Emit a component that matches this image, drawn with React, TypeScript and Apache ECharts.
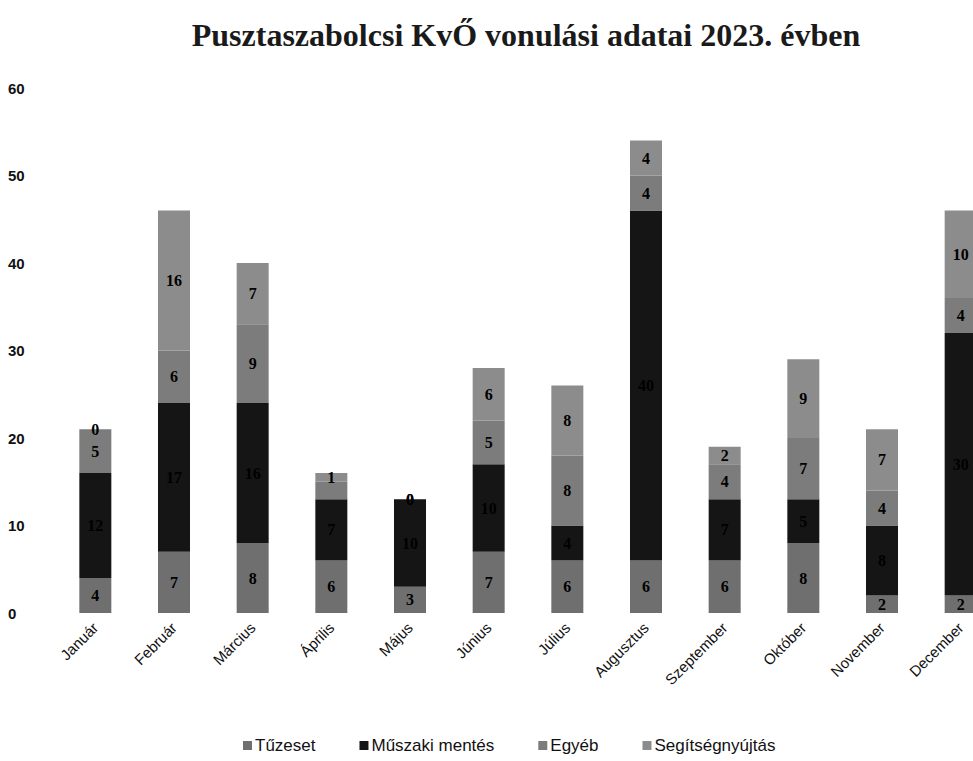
import React, { useEffect, useRef } from "react";
import * as echarts from "echarts";

const months = ["Január", "Február", "Március", "Április", "Május", "Június", "Július", "Augusztus", "Szeptember", "Október", "November", "December"];
const tuzeset = [4, 7, 8, 6, 3, 7, 6, 6, 6, 8, 2, 2];
const muszaki = [12, 17, 16, 7, 10, 10, 4, 40, 7, 5, 8, 30];
const egyeb = [5, 6, 9, 2, 0, 5, 8, 4, 4, 7, 4, 4];
const segitseg = [0, 16, 7, 1, 0, 6, 8, 4, 2, 9, 7, 10];
const yTicks = [0, 10, 20, 30, 40, 50, 60];

const seriesNames = ["Tűzeset", "Műszaki mentés", "Egyéb", "Segítségnyújtás"];
const seriesColors = ["#6f6f6f", "#151515", "#7c7c7c", "#8c8c8c"];

export default function App() {
  const ref = useRef<HTMLDivElement>(null);
  useEffect(() => {
    if (!ref.current) return;
    const chart = echarts.init(ref.current, null, { renderer: "svg" });
    const data = [tuzeset, muszaki, egyeb, segitseg];
    chart.setOption({
      animation: false,
      backgroundColor: "#ffffff",
      title: {
        text: "Pusztaszabolcsi KvŐ vonulási adatai 2023. évben",
        left: 521,
        textAlign: "center",
        top: 14,
        textStyle: { fontFamily: "Liberation Serif", fontWeight: "bold", fontSize: 32, color: "#1a1a1a" },
      },
      legend: {
        bottom: 2,
        left: 238,
        itemWidth: 9,
        itemHeight: 9,
        itemGap: 44,
        icon: "rect",
        textStyle: { fontFamily: "Liberation Sans", fontSize: 17, color: "#111", padding: [0, 0, 0, -2] },
        data: seriesNames,
      },
      grid: { left: 56, right: 0, top: 88, bottom: 148 },
      xAxis: {
        type: "category",
        data: months,
        axisLine: { show: false },
        axisTick: { show: false },
        axisLabel: { rotate: 45, fontFamily: "Liberation Sans", fontSize: 15, color: "#111", margin: 12, interval: 0 },
      },
      yAxis: {
        type: "value",
        min: 0,
        max: yTicks[yTicks.length - 1],
        interval: 10,
        splitLine: { show: false },
        axisLine: { show: false },
        axisLabel: { align: "left", margin: 48, fontFamily: "Liberation Sans", fontWeight: "bold", fontSize: 15, color: "#111" },
      },
      series: seriesNames.map((name, i) => ({
        name,
        type: "bar",
        stack: "total",
        barWidth: 32,
        data: data[i].map((v, j) => {
          const above = i < data.length - 1 ? data[i + 1][j] : 0;
          const hide = above > 0 && v > 0 && v + above <= 3;
          return hide ? { value: v, label: { show: false } } : v;
        }),
        itemStyle: { color: seriesColors[i] },
        label: {
          show: true,
          position: "inside",
          color: "#000",
          fontFamily: "Liberation Serif",
          fontWeight: "bold",
          fontSize: 16,
        },
      })),
    });
    return () => chart.dispose();
  }, []);
  return (
    <div style={{ position: "fixed", left: 0, top: 0, width: 973, height: 761, overflow: "hidden", background: "#fff" }}>
      <div ref={ref} style={{ width: 1000, height: 761 }} />
    </div>
  );
}
